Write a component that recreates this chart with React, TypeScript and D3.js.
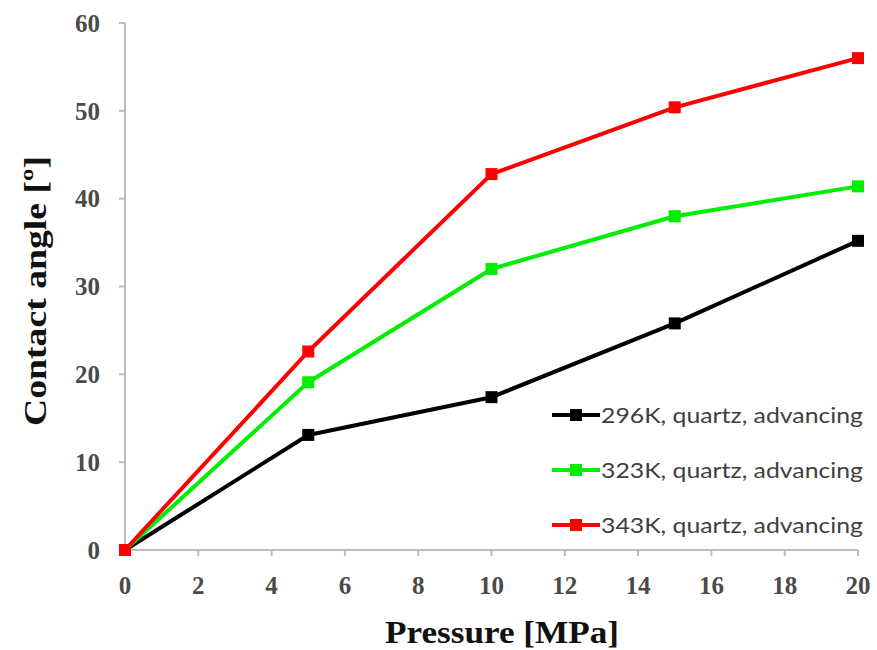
import React from 'react'
import * as d3 from 'd3'

// pressure in MPa
const pressure = [0, 5, 10, 15, 20]
const angle296 = [0, 13.1, 17.4, 25.8, 35.2]
const angle323 = [0, 19.1, 32.0, 38.0, 41.4]
const angle343 = [0, 22.6, 42.8, 50.4, 56.0]
const seriesNames = ['296K, quartz, advancing', '323K, quartz, advancing', '343K, quartz, advancing']
const seriesColors = ['#000000', '#00ee00', '#ff0000']
const xTicks = [0, 2, 4, 6, 8, 10, 12, 14, 16, 18, 20]
const yTicks = [0, 10, 20, 30, 40, 50, 60]

const W = 877
const H = 650
const left = 125
const right = 858
const top = 23
const bottom = 550

export default function App() {
    const x = d3.scaleLinear().domain([0, 20]).range([left, right])
    const y = d3.scaleLinear().domain([0, 60]).range([bottom, top])
    const line = d3.line<number>()
        .x((d, i) => x(pressure[i]))
        .y(d => y(d))

    const all = [angle296, angle323, angle343]
    const axisColor = '#bdbdbd'
    const serif = "'Liberation Serif', 'Times New Roman', serif"

    return (
        <svg width={W} height={H} style={{ position: 'absolute', left: 0, top: 0, background: '#fff' }}>
            {/* axes */}
            <line x1={left} x2={left} y1={top} y2={bottom} stroke={axisColor} strokeWidth={2} />
            <line x1={left} x2={right} y1={bottom} y2={bottom} stroke={axisColor} strokeWidth={2} />
            {yTicks.map(t => (
                <g key={'y' + t}>
                    <line x1={left - 6} x2={left} y1={y(t)} y2={y(t)} stroke={axisColor} strokeWidth={2} />
                    <text x={100} y={y(t)} dy="0.35em" textAnchor="end"
                        fontFamily={serif} fontWeight="bold" fontSize={25} fill="#4a4a4a">{t}</text>
                </g>
            ))}
            {xTicks.map(t => (
                <g key={'x' + t}>
                    <line x1={x(t)} x2={x(t)} y1={bottom} y2={bottom + 6} stroke={axisColor} strokeWidth={2} />
                    <text x={x(t)} y={585} dy="0.35em" textAnchor="middle"
                        fontFamily={serif} fontWeight="bold" fontSize={25} fill="#4a4a4a">{t}</text>
                </g>
            ))}
            <text transform="translate(35,291) rotate(-90)" textAnchor="middle" dy="0.35em"
                fontFamily={serif} fontWeight="bold" fontSize={32} fill="#111"
                textLength={270} lengthAdjust="spacingAndGlyphs">Contact angle [º]</text>
            <text x={502} y={632} textAnchor="middle" dy="0.35em"
                fontFamily={serif} fontWeight="bold" fontSize={32} fill="#111"
                textLength={234} lengthAdjust="spacingAndGlyphs">Pressure [MPa]</text>

            {/* series */}
            {all.map((vals, si) => (
                <g key={'s' + si}>
                    <path d={line(vals) || ''} fill="none" stroke={seriesColors[si]} strokeWidth={4} strokeLinejoin="round" />
                    {vals.map((v, i) => (
                        <rect key={i} x={x(pressure[i]) - 6} y={y(v) - 6} width={12} height={12} fill={seriesColors[si]} />
                    ))}
                </g>
            ))}

            {/* legend */}
            {seriesNames.map((name, i) => {
                const ly = 415 + i * 55
                return (
                    <g key={'l' + i}>
                        <line x1={552} x2={600} y1={ly} y2={ly} stroke={seriesColors[i]} strokeWidth={4} />
                        <rect x={570} y={ly - 6} width={12} height={12} fill={seriesColors[i]} />
                        <text x={601} y={ly} dy="0.35em" fontFamily="Lato, 'Open Sans', sans-serif" fontSize={22} fill="#404040"
                            textLength={262} lengthAdjust="spacingAndGlyphs">{name}</text>
                    </g>
                )
            })}
        </svg>
    )
}
